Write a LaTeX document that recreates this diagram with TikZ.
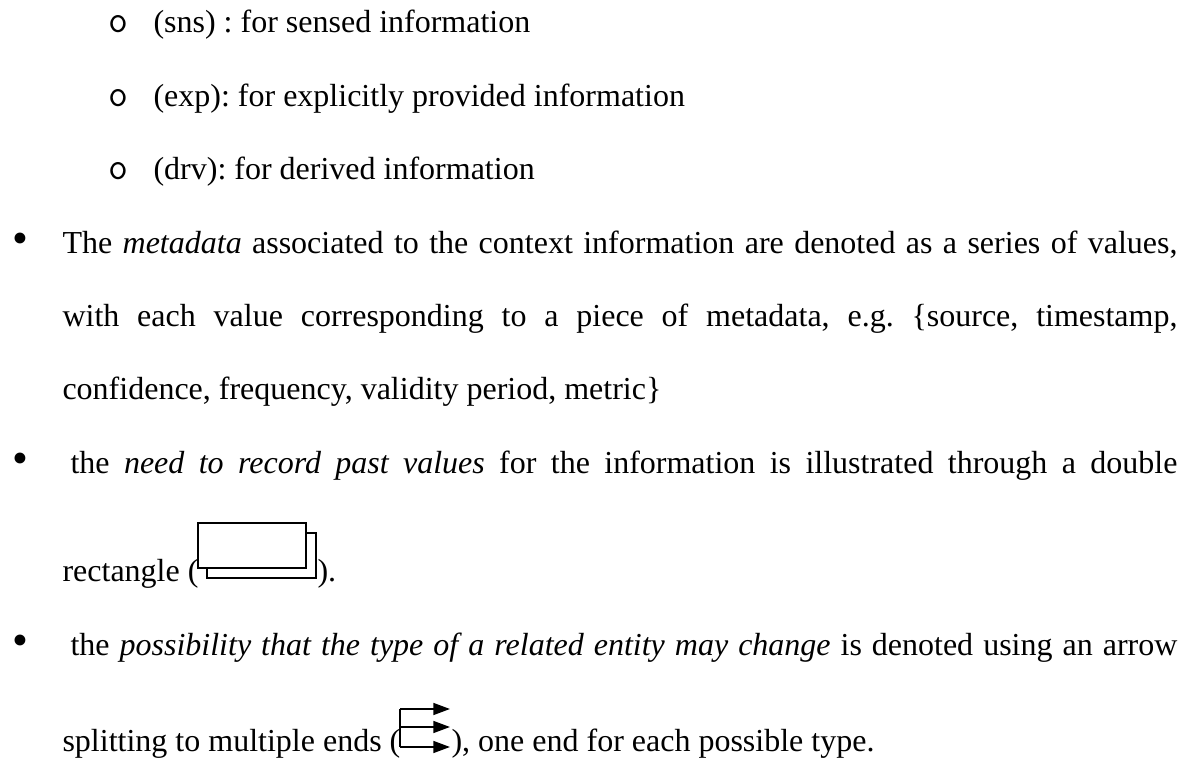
\documentclass[tikz,border=0pt]{standalone}
\usepackage{fontspec}
\setmainfont{Liberation Serif}
\usetikzlibrary{arrows.meta}

\begin{document}
\begin{tikzpicture}[x=0.375pt,y=-0.375pt,
  txt/.style={anchor=base west,inner sep=0pt,font=\fontsize{12}{14}\selectfont\frenchspacing},
  dot/.style={anchor=base,inner sep=0pt,font=\fontsize{17}{17}\selectfont},
  subdot/.style={anchor=base,inner sep=0pt,font=\ttfamily\fontsize{14.5}{16}\selectfont},
  icon/.style={line width=0.75pt},
  tip/.style={-{Triangle[length=6.2pt,width=4.4pt]}}]
	%%%%% START %%%%%
	\useasboundingbox (0,0) rectangle (1180,762);

	% kinds of information
	\node[subdot] (o1) at (118,33) {o};
	\node[txt] (sns) at (153,33) {(sns) : for sensed information};
	\node[subdot] (o2) at (118,106.4) {o};
	\node[txt] (exp) at (153,106.4) {(exp): for explicitly provided information};
	\node[subdot] (o3) at (118,179.8) {o};
	\node[txt] (drv) at (153,179.8) {(drv): for derived information};

	% metadata
	\node[dot] (b1) at (20,253.2) {•};
	\node[txt] (meta1) at (62,253.2) {\makebox[418.1pt][s]{The \textit{metadata} associated to the context information are denoted as a series of values,}};
	\node[txt] (meta2) at (62,326.6) {\makebox[418.1pt][s]{with each value corresponding to a piece of metadata, e.g. \{source, timestamp,}};
	\node[txt] (meta3) at (62,400) {confidence, frequency, validity period, metric\}};

	% past values
	\node[dot] (b2) at (20,474) {•};
	\node[txt] (need1) at (70,474) {\makebox[415.1pt][s]{the \textit{need to record past values} for the information is illustrated through a double}};
	\node[txt] (need2) at (62,582) {rectangle (};
	\draw[icon] (207,533) rectangle (316,578);
	\draw[icon,fill=white] (198,523) rectangle (306,568);
	\node[txt] (need3) at (317,582) {).};

	% changing type
	\node[dot] (b3) at (20,655.4) {•};
	\node[txt] (poss1) at (70,655.4) {\makebox[415.1pt][s]{the \textit{possibility that the type of a related entity may change} is denoted using an arrow}};
	\node[txt] (split1) at (62,752) {splitting to multiple ends (};
	\coordinate (fork) at (400,709);
	\draw[icon] (fork) -- (400,747);
	\draw[icon,tip] (fork) -- (450,709);
	\draw[icon,tip] (400,727) -- (450,727);
	\draw[icon,tip] (400,747) -- (450,747);
	\node[txt] (split2) at (451,752) {), one end for each possible type.};
	%%%%% END %%%%%
\end{tikzpicture}
\end{document}
